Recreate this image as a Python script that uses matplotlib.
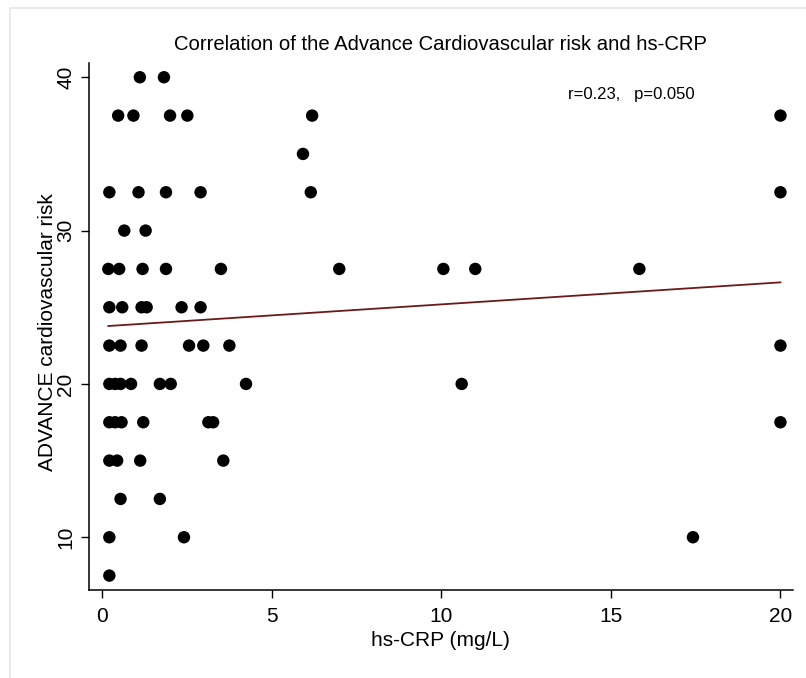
import numpy as np
import matplotlib
matplotlib.use("Agg")
import matplotlib.pyplot as plt
from matplotlib.patches import Rectangle

plt.rcParams['font.family'] = ['Liberation Sans', 'DejaVu Sans']

# hs-CRP (mg/L) against ADVANCE risk
crp_40 = [1.11, 1.82]
crp_375 = [0.47, 0.92, 2.0, 2.51, 6.19, 20.0]
crp_35 = [5.92]
crp_325 = [0.21, 1.07, 1.88, 2.9, 6.15, 20.0]
crp_30 = [0.65, 1.28]
crp_275 = [0.18, 0.50, 1.19, 1.88, 3.50, 6.99, 10.06, 11.0, 15.84]
crp_25 = [0.21, 0.59, 1.16, 1.31, 2.34, 2.9]
crp_225 = [0.21, 0.54, 1.16, 2.56, 2.98, 3.75, 20.0]
crp_20 = [0.21, 0.38, 0.54, 0.85, 1.70, 2.02, 4.24, 10.6]
crp_175 = [0.21, 0.38, 0.57, 1.21, 3.13, 3.27, 20.0]
crp_15 = [0.21, 0.44, 1.12, 3.57]
crp_125 = [0.54, 1.70]
crp_10 = [0.21, 2.41, 17.42]
crp_75 = [0.21]

rows = [(40, crp_40), (37.5, crp_375), (35, crp_35), (32.5, crp_325),
        (30, crp_30), (27.5, crp_275), (25, crp_25), (22.5, crp_225),
        (20, crp_20), (17.5, crp_175), (15, crp_15), (12.5, crp_125),
        (10, crp_10), (7.5, crp_75)]

x = np.array([v for r, xs in rows for v in xs])
y = np.array([r for r, xs in rows for v in xs])

xticks = [0, 5, 10, 15, 20]
yticks = [10, 20, 30, 40]

fig = plt.figure(figsize=(8.06, 6.78), dpi=100)
fig.patches.append(Rectangle((10 / 806, -0.01), 1.0, 1 - 8 / 678 + 0.01,
                             transform=fig.transFigure, fill=False,
                             edgecolor='#e6e6e6', linewidth=1.2))
ax = fig.add_axes([89 / 806, 1 - 590 / 678, 704 / 806, 527 / 678])

ax.scatter(x, y, s=80, c='black', edgecolors='none', zorder=3)

# linear fit
b, a = np.polyfit(x, y, 1)
xx = np.array([x.min(), x.max()])
ax.plot(xx, a + b * xx, color='#6b1a1a', linewidth=1.3, zorder=2)

ax.set_xlim(-0.39, 20.37)
ax.set_ylim(6.56, 40.93)
ax.set_xticks(xticks)
ax.set_yticks(yticks)
ax.tick_params(axis='x', labelsize=15, length=6, width=1, pad=6)
ax.tick_params(axis='y', labelsize=15, length=6, width=1, pad=4)
for lab in ax.get_yticklabels():
    lab.set_rotation(90)
    lab.set_va('center')
for s in ['top', 'right']:
    ax.spines[s].set_visible(False)
for s in ['left', 'bottom']:
    ax.spines[s].set_linewidth(1.1)

ax.set_xlabel('hs-CRP (mg/L)', fontsize=15)
ax.xaxis.set_label_coords(0.4986, -0.077)
ax.set_ylabel('ADVANCE cardiovascular risk', fontsize=15)
ax.yaxis.set_label_coords(-0.046, 0.49)

fig.text(440 / 806, 1 - 45 / 678,
         'Correlation of the Advance Cardiovascular risk and hs-CRP',
         ha='center', va='center', fontsize=14.6)
ax.text(0.681, 0.94, 'r=0.23,   p=0.050', transform=ax.transAxes,
        ha='left', va='center', fontsize=12)

fig.savefig('out.png', dpi=100)
